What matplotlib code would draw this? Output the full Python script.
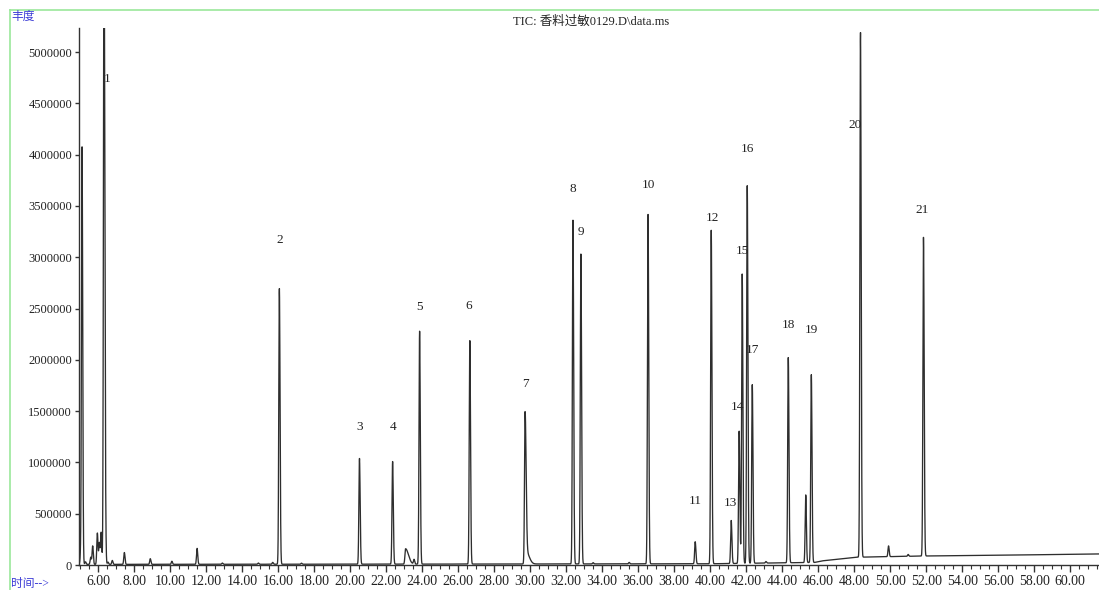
import numpy as np
import matplotlib
matplotlib.use("Agg")
import matplotlib.pyplot as plt
from matplotlib.lines import Line2D
from matplotlib.ticker import MultipleLocator, FormatStrFormatter

plt.rcParams["font.family"] = ["Liberation Serif", "Noto Sans CJK SC", "DejaVu Sans"]

# numbered peaks: retention time (min) and abundance at apex
peak_numbers = list(range(1, 22))
peak_rt = [6.33, 16.07, 20.52, 22.36, 23.86, 26.65, 29.72, 32.38, 32.82, 36.55,
           39.17, 40.06, 41.17, 41.61, 41.78, 42.06, 42.34, 44.34, 45.62, 48.35, 51.85]
peak_height = [6200000, 2690000, 1030000, 1000000, 2270000, 2180000, 1440000, 3350000,
               3020000, 3410000, 215000, 3250000, 420000, 1290000, 2820000, 3680000,
               1740000, 2000000, 1830000, 5120000, 3110000]

# unnumbered peaks, tailing shoulders and small bumps along the trace
minor_rt = [5.11, 5.03, 5.30, 5.59, 5.70, 5.96, 6.07, 6.17, 6.39, 6.55, 6.79, 7.46,
            8.90, 10.10, 11.50, 12.90, 14.90, 15.70, 17.30, 23.08, 23.55, 29.80,
            33.50, 35.50, 43.10, 45.31, 49.91, 51.00]
minor_height = [4070000, 95000, 25000, 70000, 180000, 305000, 210000, 310000, 690000,
                22000, 38000, 115000, 55000, 30000, 155000, 12000, 12000, 18000,
                10000, 150000, 45000, 110000, 12000, 14000, 15000, 660000, 105000, 18000]

# drifting baseline (time, abundance)
base_t = [4.9, 20.0, 40.0, 45.8, 46.2, 48.2, 52.0, 56.0, 61.7]
base_v = [6000, 8000, 12000, 25000, 40000, 76000, 88000, 95000, 108000]

# label placement relative to each apex, in pixels (dx, dy)
label_offsets = [(3, -51), (0, 49), (0, 32), (0, 35), (0, 25), (-1, 35), (0, 33),
                 (0, 32), (0, 23), (0, 30), (0, 42), (1, 14), (-1, 19), (-2, 26),
                 (0, 25), (0, 38), (0, 36), (0, 35), (0, 47), (-5, -85), (-1, 36)]

X_MIN, X_MAX = 4.94, 61.6
Y_MAX = 5234000


def peak_shape(t, rt, h, sigma=0.032, tail=0.035):
    s = np.where(t < rt, sigma, tail)
    return h * np.exp(-0.5 * ((t - rt) / s) ** 2)


t = np.arange(X_MIN, X_MAX + 0.1, 0.004)
signal = np.interp(t, base_t, base_v)
for rt, h in zip(peak_rt, peak_height):
    tail = 0.055 if rt == 29.72 else 0.038
    signal += peak_shape(t, rt, h, tail=tail)
for rt, h in zip(minor_rt, minor_height):
    if rt == 23.08:
        sigma, tail = 0.035, 0.16
    elif rt == 29.80:
        sigma, tail = 0.06, 0.16
    else:
        sigma, tail = 0.032, 0.035
    signal += peak_shape(t, rt, h, sigma=sigma, tail=tail)

fig = plt.figure(figsize=(10.99, 5.90), dpi=100)
ax = fig.add_axes([79 / 1099, 25 / 590, 1 - 79 / 1099, 537 / 590])

ax.plot(t, signal, color="#2e2e2e", linewidth=0.95)

for num, rt, h, (dx, dy) in zip(peak_numbers, peak_rt, peak_height, label_offsets):
    y = min(h, Y_MAX)
    ax.annotate(str(num), xy=(rt, y), xytext=(dx, dy), textcoords="offset pixels",
                ha="center", va="center", fontsize=9.5, color="#222222",
                annotation_clip=False)

ax.set_xlim(X_MIN, X_MAX)
ax.set_ylim(0, Y_MAX)
ax.xaxis.set_major_locator(MultipleLocator(2))
ax.xaxis.set_minor_locator(MultipleLocator(0.5))
ax.xaxis.set_major_formatter(FormatStrFormatter("%.2f"))
ax.yaxis.set_major_locator(MultipleLocator(500000))
ax.yaxis.set_major_formatter(FormatStrFormatter("%d"))

for side in ("top", "right"):
    ax.spines[side].set_visible(False)
for side in ("left", "bottom"):
    ax.spines[side].set_color("#333333")
    ax.spines[side].set_linewidth(1.0)

ax.tick_params(axis="x", which="major", length=5, width=1, pad=2,
               labelsize=10, colors="#333333", labelcolor="#222222")
ax.tick_params(axis="x", which="minor", length=3, width=0.8, colors="#333333")
ax.tick_params(axis="y", which="major", length=3, width=1, pad=2,
               labelsize=9, colors="#333333", labelcolor="#222222")

# light green frame round the plot window
frame_color = "#9be89b"
fig.add_artist(Line2D([10 / 1099, 1], [1 - 10 / 590, 1 - 10 / 590],
                      transform=fig.transFigure, color=frame_color, linewidth=1.2))
fig.add_artist(Line2D([10 / 1099, 10 / 1099], [0, 1 - 10 / 590],
                      transform=fig.transFigure, color=frame_color, linewidth=1.2))

fig.text(591 / 1099, 1 - 22 / 590, "TIC: 香料过敏0129.D\\data.ms",
         ha="center", va="center", fontsize=9, color="#222222")
fig.text(11 / 1099, 1 - 17 / 590, "丰度", ha="left", va="center",
         fontsize=8.5, color="#3b3bd6")
fig.text(11 / 1099, 1 - 584 / 590, "时间-->", ha="left", va="center",
         fontsize=8.5, color="#3b3bd6")

fig.savefig("out.png", dpi=100)
